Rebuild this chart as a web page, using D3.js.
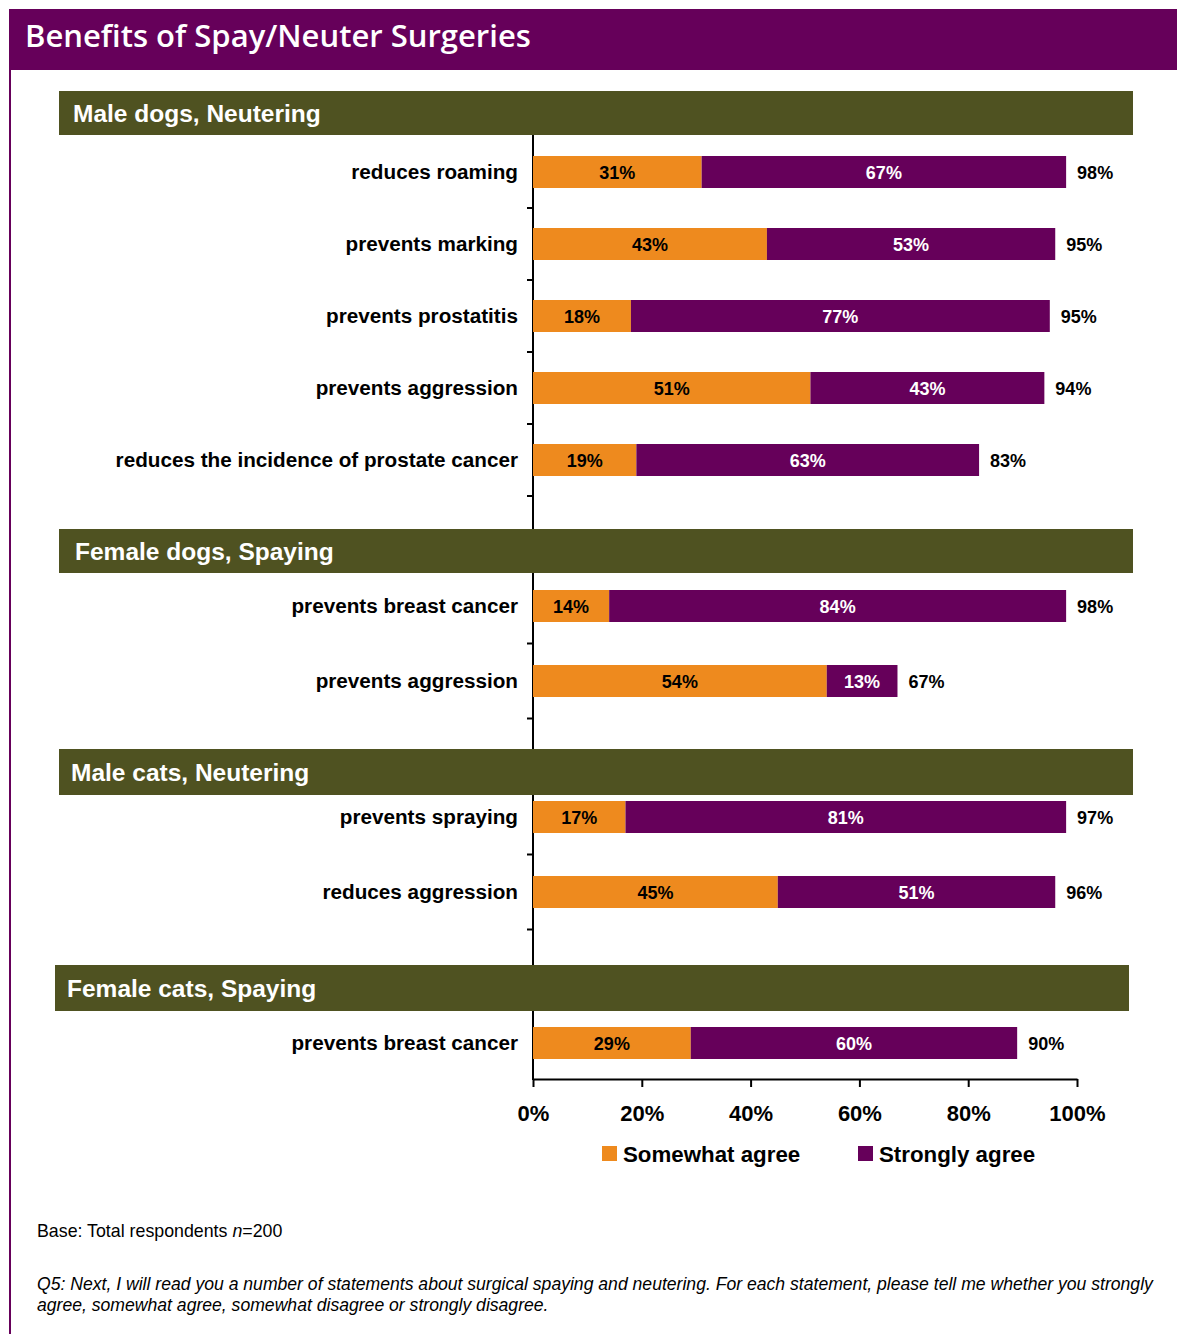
<!DOCTYPE html>
<html>
<head>
<meta charset="utf-8">
<script src="https://cdn.jsdelivr.net/npm/d3@7"></script>
<style>
  html, body { margin: 0; padding: 0; background: #ffffff; }
  svg { display: block; }
</style>
</head>
<body>
<script>
// Survey results: agreement with benefits of spay/neuter surgery (percent of respondents)
const sections = ["Male dogs, Neutering", "Female dogs, Spaying", "Male cats, Neutering", "Female cats, Spaying"];
const statements = [
  "reduces roaming",
  "prevents marking",
  "prevents prostatitis",
  "prevents aggression",
  "reduces the incidence of prostate cancer",
  "prevents breast cancer",
  "prevents aggression",
  "prevents spraying",
  "reduces aggression",
  "prevents breast cancer"
];
const statementSection = [0, 0, 0, 0, 0, 1, 1, 2, 2, 3];
const somewhatAgree = [31, 43, 18, 51, 19, 14, 54, 17, 45, 29];
const stronglyAgree = [67, 53, 77, 43, 63, 84, 13, 81, 51, 60];
const totalAgree = [98, 95, 95, 94, 83, 98, 67, 97, 96, 90];
const seriesNames = ["Somewhat agree", "Strongly agree"];
const xTickValues = [0, 20, 40, 60, 80, 100];

const W = 1177, H = 1334;
const PURPLE = "#66005a", ORANGE = "#ee8a1e", OLIVE = "#4f5221";
const BOLD = "'Liberation Sans', Arial, sans-serif";

const svg = d3.select("body").append("svg").attr("width", W).attr("height", H);

// Frame: title bar and left rule
svg.append("rect").attr("x", 9).attr("y", 9).attr("width", W - 9).attr("height", 61).attr("fill", PURPLE);
svg.append("rect").attr("x", 9).attr("y", 70).attr("width", 2).attr("height", H - 70).attr("fill", PURPLE);
svg.append("text").attr("x", 25).attr("y", 47)
  .attr("fill", "#fff").attr("font-family", "'Open Sans', sans-serif")
  .attr("font-weight", 600).attr("font-size", 31)
  .text("Benefits of Spay/Neuter Surgeries");

// Horizontal value scale
const x = d3.scaleLinear().domain([0, 100]).range([533, 1077]);
const axisBottomY = 1079;
const barH = 32;

// Vertical layout of each section: header band and the rows beneath it
const sectionLayout = [
  { headerTop: 91,  headerH: 44, x0: 59, x1: 1133, textX: 73, rows: [136, 496] },
  { headerTop: 529, headerH: 44, x0: 59, x1: 1133, textX: 75, rows: [568.5, 718.5] },
  { headerTop: 749, headerH: 46, x0: 59, x1: 1133, textX: 71, rows: [779.5, 929.5] },
  { headerTop: 965, headerH: 46, x0: 55, x1: 1129, textX: 67, rows: [1007, 1079] }
];

const rows = statements.map((s, i) => ({
  idx: i, label: s, section: statementSection[i],
  somewhat: somewhatAgree[i], strongly: stronglyAgree[i], total: totalAgree[i]
}));

const yScales = sectionLayout.map((lay, si) => {
  const ids = rows.filter(r => r.section === si).map(r => r.idx);
  const step = (lay.rows[1] - lay.rows[0]) / ids.length;
  const pin = 1 - barH / step;
  return d3.scaleBand().domain(ids).range(lay.rows).paddingInner(pin).paddingOuter(pin / 2);
});
const yOf = r => yScales[r.section](r.idx);
const bw = r => yScales[r.section].bandwidth();

const g = svg.append("g");

// Category (vertical) axis line
g.append("line").attr("x1", x(0)).attr("x2", x(0)).attr("y1", 135).attr("y2", axisBottomY + 1)
  .attr("stroke", "#000").attr("stroke-width", 2);

// Small category tick marks at row boundaries of the upper sections
const catTicks = [];
yScales.forEach((ys, si) => {
  if (si === sectionLayout.length - 1) return;
  ys.domain().forEach(id => catTicks.push(ys(id) + ys.bandwidth() / 2 + ys.step() / 2));
});
g.selectAll("line.ctick").data(catTicks).join("line").attr("class", "ctick")
  .attr("x1", x(0) - 6).attr("x2", x(0)).attr("y1", d => d).attr("y2", d => d)
  .attr("stroke", "#000").attr("stroke-width", 2);

// Section header bands
sectionLayout.forEach((lay, si) => {
  g.append("rect").attr("x", lay.x0).attr("y", lay.headerTop)
    .attr("width", lay.x1 - lay.x0).attr("height", lay.headerH).attr("fill", OLIVE);
  g.append("text").attr("x", lay.textX).attr("y", lay.headerTop + lay.headerH / 2 + 8.5)
    .attr("fill", "#fff").attr("font-family", BOLD).attr("font-weight", "bold").attr("font-size", 24.5)
    .text(sections[si]);
});

// Stacked bars
const rowG = g.selectAll("g.row").data(rows).join("g").attr("class", "row");

rowG.append("rect")
  .attr("x", x(0)).attr("y", d => yOf(d))
  .attr("width", d => x(d.somewhat) - x(0)).attr("height", bw)
  .attr("fill", ORANGE);
rowG.append("rect")
  .attr("x", d => x(d.somewhat)).attr("y", d => yOf(d))
  .attr("width", d => x(d.somewhat + d.strongly) - x(d.somewhat)).attr("height", bw)
  .attr("fill", PURPLE);

// Segment labels
rowG.append("text")
  .attr("x", d => (x(0) + x(d.somewhat)) / 2).attr("y", d => yOf(d) + bw(d) / 2 + 6.5)
  .attr("text-anchor", "middle").attr("fill", "#000")
  .attr("font-family", BOLD).attr("font-weight", "bold").attr("font-size", 18)
  .text(d => d.somewhat + "%");
rowG.append("text")
  .attr("x", d => (x(d.somewhat) + x(d.somewhat + d.strongly)) / 2).attr("y", d => yOf(d) + bw(d) / 2 + 6.5)
  .attr("text-anchor", "middle").attr("fill", "#fff")
  .attr("font-family", BOLD).attr("font-weight", "bold").attr("font-size", 18)
  .text(d => d.strongly + "%");

// Total agreement labels
rowG.append("text")
  .attr("x", d => x(d.somewhat + d.strongly) + 11).attr("y", d => yOf(d) + bw(d) / 2 + 7)
  .attr("fill", "#000").attr("font-family", BOLD).attr("font-weight", "bold").attr("font-size", 18)
  .text(d => d.total + "%");

// Statement labels
rowG.append("text")
  .attr("x", 518).attr("y", d => yOf(d) + bw(d) / 2 + 7)
  .attr("text-anchor", "end").attr("fill", "#000")
  .attr("font-family", BOLD).attr("font-weight", "bold").attr("font-size", 20.7)
  .text(d => d.label);

// Value axis
const xAxis = d3.axisBottom(x).tickValues(xTickValues).tickFormat(d => d + "%")
  .tickSize(8).tickSizeOuter(0).tickPadding(18);
const ax = g.append("g").attr("transform", `translate(0,${axisBottomY})`).call(xAxis);
ax.select(".domain").attr("stroke", "#000").attr("stroke-width", 2);
ax.selectAll(".tick line").attr("stroke", "#000").attr("stroke-width", 2);
ax.selectAll(".tick text").attr("fill", "#000")
  .attr("font-family", BOLD).attr("font-weight", "bold").attr("font-size", 22);

// Legend
const legendColors = [ORANGE, PURPLE];
const legendX = [602, 858];
const lg = g.selectAll("g.legend").data(seriesNames).join("g").attr("class", "legend")
  .attr("transform", (d, i) => `translate(${legendX[i]},1146)`);
lg.append("rect").attr("width", 15).attr("height", 15).attr("fill", (d, i) => legendColors[i]);
lg.append("text").attr("x", 21).attr("y", 16)
  .attr("fill", "#000").attr("font-family", BOLD).attr("font-weight", "bold").attr("font-size", 22.3)
  .text(d => d);

// Footnotes
const base = svg.append("text").attr("x", 37).attr("y", 1237)
  .attr("font-family", BOLD).attr("font-size", 17.8).attr("fill", "#000");
base.append("tspan").text("Base: Total respondents ");
base.append("tspan").attr("font-style", "italic").text("n");
base.append("tspan").text("=200");

const q = svg.append("text").attr("font-family", BOLD).attr("font-size", 17.6)
  .attr("font-style", "italic").attr("fill", "#000");
q.append("tspan").attr("x", 37).attr("y", 1290)
  .text("Q5: Next, I will read you a number of statements about surgical spaying and neutering. For each statement, please tell me whether you strongly");
q.append("tspan").attr("x", 37).attr("y", 1311)
  .text("agree, somewhat agree, somewhat disagree or strongly disagree.");
</script>
</body>
</html>
